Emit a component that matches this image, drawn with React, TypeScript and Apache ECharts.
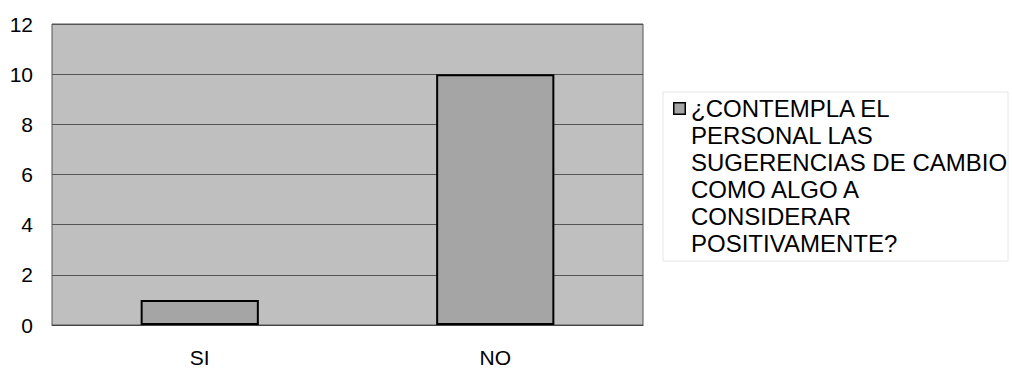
import React, { useEffect, useRef } from "react";
import * as echarts from "echarts";

const categories = ["SI", "NO"];
const values = [1, 10];
const seriesName = "¿CONTEMPLA EL\nPERSONAL LAS\nSUGERENCIAS DE CAMBIO\nCOMO ALGO A\nCONSIDERAR\nPOSITIVAMENTE?";
const yMin = 0;
const yMax = 12;
const yInterval = 2;

const FONT = "'Liberation Sans', Arial, sans-serif";
const BAR_COLOR = "#a5a5a5";

const iconSvg =
  "<svg xmlns='http://www.w3.org/2000/svg' width='13' height='162' viewBox='0 0 13 162'>" +
  "<rect x='0.75' y='7.75' width='11.5' height='11.5' fill='" + BAR_COLOR + "' stroke='#000' stroke-width='1.5'/></svg>";
const ICON = "image://data:image/svg+xml;charset=utf-8," + encodeURIComponent(iconSvg);

export default function App() {
  const ref = useRef<HTMLDivElement>(null);
  useEffect(() => {
    if (!ref.current) return;
    const chart = echarts.init(ref.current, undefined, { renderer: "svg" });
    chart.setOption({
      animation: false,
      backgroundColor: "#ffffff",
      textStyle: { fontFamily: FONT },
      grid: {
        left: 52,
        right: 369,
        top: 24,
        bottom: 45,
        show: true,
        backgroundColor: "#bfbfbf",
        borderColor: "#555555",
        borderWidth: 1,
      },
      graphic: [
        {
          type: "rect",
          shape: { x: 663, y: 92, width: 345, height: 169 },
          style: { fill: "none", stroke: "#e6e6e6", lineWidth: 1 },
          silent: true,
        },
      ],
      legend: {
        show: true,
        left: 673,
        top: 95,
        padding: 0,
        itemWidth: 13,
        itemHeight: 162,
        icon: ICON,
        textStyle: {
          fontFamily: FONT,
          fontSize: 24,
          lineHeight: 27,
          color: "#000",
        },
        data: [seriesName],
      },
      xAxis: {
        type: "category",
        data: categories,
        axisTick: { show: false },
        axisLine: { show: true, lineStyle: { color: "#444", width: 1 } },
        axisLabel: { color: "#000", fontSize: 21, fontFamily: FONT, margin: 22 },
      },
      yAxis: {
        type: "value",
        min: yMin,
        max: yMax,
        interval: yInterval,
        axisLine: { show: false },
        axisTick: { show: false },
        axisLabel: { color: "#000", fontSize: 21, fontFamily: FONT, margin: 19 },
        splitLine: { show: true, lineStyle: { color: "#555", width: 1 } },
      },
      series: [
        {
          name: seriesName,
          type: "bar",
          data: values,
          barWidth: "40%",
          itemStyle: { color: BAR_COLOR, borderColor: "#000", borderWidth: 2 },
        },
      ],
    });
    return () => chart.dispose();
  }, []);
  return (
    <div
      ref={ref}
      style={{ position: "fixed", left: 0, top: 0, width: 1012, height: 370 }}
    />
  );
}
